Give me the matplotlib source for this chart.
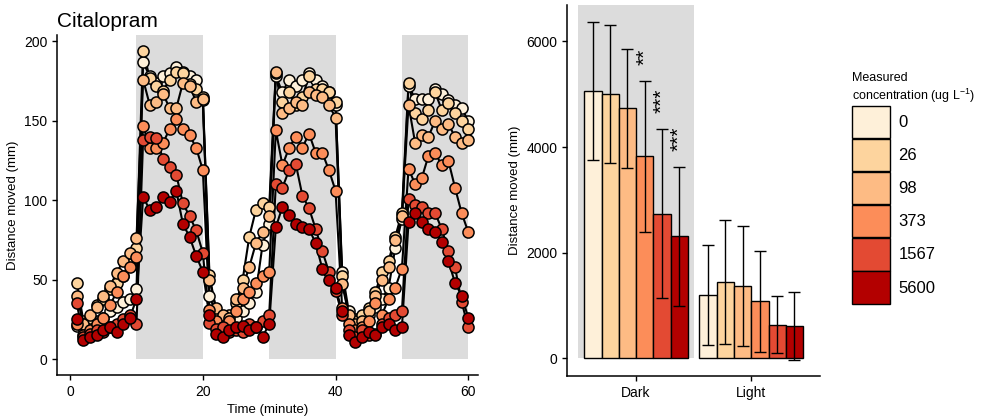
import numpy as np
import matplotlib.pyplot as plt
from matplotlib.patches import Patch

plt.rcParams['font.family'] = ['Liberation Sans', 'DejaVu Sans']

# concentrations and colours (OrRd)
conc = ['0', '26', '98', '373', '1567', '5600']
colors = ['#FEF0D9', '#FDD49E', '#FDBB84', '#FC8D59', '#E34A33', '#B30000']

minutes = list(range(1, 61))
dark_periods = [(10, 20), (30, 40), (50, 60)]

# distance moved per minute, one list per concentration
dist_0 = [21, 20, 22, 24, 26, 30, 33, 36, 38, 44,
          187, 178, 174, 178, 180, 184, 181, 178, 176, 163,
          40, 28, 25, 22, 26, 30, 35, 42, 72, 85,
          178, 168, 176, 172, 176, 180, 176, 172, 168, 160,
          55, 30, 25, 26, 28, 33, 38, 45, 70, 88,
          172, 164, 164, 164, 170, 167, 163, 160, 158, 150]
dist_26 = [48, 24, 26, 34, 38, 44, 48, 52, 60, 70,
           194, 177, 172, 169, 176, 181, 180, 173, 170, 165,
           53, 30, 25, 28, 35, 50, 77, 94, 98, 96,
           180, 162, 168, 160, 165, 178, 170, 170, 168, 162,
           52, 26, 24, 28, 32, 42, 55, 62, 77, 92,
           174, 155, 151, 157, 168, 157, 161, 155, 150, 145]
dist_98 = [40, 22, 28, 33, 40, 46, 54, 62, 67, 76,
           176, 160, 162, 167, 158, 158, 174, 172, 162, 164,
           50, 32, 28, 26, 38, 45, 58, 73, 80, 90,
           181, 155, 158, 162, 160, 168, 166, 165, 160, 152,
           47, 28, 22, 24, 30, 40, 50, 58, 75, 90,
           160, 136, 141, 140, 150, 145, 148, 140, 136, 138]
dist_373 = [22, 15, 18, 22, 26, 34, 42, 52, 58, 64,
            147, 133, 133, 136, 145, 151, 145, 141, 133, 119,
            31, 24, 20, 24, 30, 38, 42, 48, 52, 55,
            144, 122, 133, 140, 133, 142, 130, 130, 119, 106,
            32, 22, 18, 20, 24, 35, 28, 38, 45, 57,
            120, 110, 114, 128, 130, 122, 125, 108, 92, 80]
dist_1567 = [35, 14, 16, 18, 17, 20, 22, 25, 28, 22,
             138, 140, 139, 126, 121, 116, 98, 90, 81, 67,
             23, 19, 20, 17, 18, 17, 22, 20, 24, 28,
             110, 108, 119, 123, 103, 95, 82, 68, 55, 43,
             28, 18, 14, 18, 15, 16, 22, 26, 28, 30,
             101, 97, 96, 92, 92, 82, 68, 58, 36, 20]
dist_5600 = [25, 12, 14, 15, 18, 20, 17, 22, 26, 38,
             102, 94, 96, 102, 99, 106, 85, 77, 65, 55,
             28, 16, 14, 18, 20, 21, 18, 20, 14, 22,
             83, 96, 91, 85, 83, 82, 73, 57, 50, 45,
             30, 15, 11, 14, 17, 15, 20, 22, 18, 20,
             86, 92, 86, 82, 80, 74, 62, 48, 40, 26]
series = [dist_0, dist_26, dist_98, dist_373, dist_1567, dist_5600]

# summed distance per phase (mean and sd)
phases = ['Dark', 'Light']
dark_mean = [5065, 5003, 4732, 3828, 2742, 2312]
dark_sd = [1300, 1300, 1120, 1430, 1600, 1310]
light_mean = [1206, 1446, 1370, 1080, 638, 612]
light_sd = [950, 1170, 1130, 960, 540, 640]
dark_sig = ['', '', '', '**', '***', '***']

fig = plt.figure(figsize=(9.86, 4.18), dpi=100)

# ---- left: time course ----
ax1 = fig.add_axes([0.058, 0.103, 0.427, 0.813])
for start, end in dark_periods:
    ax1.axvspan(start, end, ymin=10 / 214, ymax=1, color='#DCDCDC', lw=0, zorder=0)
for vals in series:
    ax1.plot(minutes, vals, color='black', lw=1.5, zorder=2)
for vals, c in zip(series, colors):
    ax1.plot(minutes, vals, ls='none', marker='o', ms=8, mfc=c, mec='black', mew=1.1, zorder=3)
ax1.set_xlim(-1.95, 61.5)
ax1.set_ylim(-10, 204)
ax1.set_xticks([0, 20, 40, 60])
ax1.set_yticks([0, 50, 100, 150, 200])
ax1.set_xlabel('Time (minute)', fontsize=9.5)
ax1.set_ylabel('Distance moved (mm)', fontsize=9.5)
ax1.set_title('Citalopram', loc='left', fontsize=15, x=0.0, pad=6)

# ---- right: bar chart ----
ax2 = fig.add_axes([0.575, 0.1, 0.257, 0.888])
ax2.axvspan(0.5, 1.5, ymin=335 / 7025, ymax=1, color='#DCDCDC', lw=0, zorder=0)
n = len(conc)
w = 0.9 / n
for gi, (means, sds) in enumerate([(dark_mean, dark_sd), (light_mean, light_sd)]):
    xs = gi + 1 - 0.45 + w / 2 + w * np.arange(n)
    ax2.bar(xs, means, width=w, color=colors, edgecolor='black', lw=1, zorder=2)
    ax2.errorbar(xs, means, yerr=sds, fmt='none', ecolor='black', elinewidth=1,
                 capsize=4, capthick=1, zorder=3)
    if gi == 0:
        for x, m, s, lab in zip(xs, means, sds, dark_sig):
            if lab:
                ax2.text(x, m + s + 300, lab, rotation=90, ha='center', va='bottom', fontsize=15)
ax2.set_xlim(0.4, 2.6)
ax2.set_ylim(-335, 6690)
ax2.set_xticks([1, 2])
ax2.set_xticklabels(phases)
ax2.set_yticks([0, 2000, 4000, 6000])
ax2.set_ylabel('Distance moved (mm)', fontsize=9.5)

for ax in (ax1, ax2):
    for side in ('top', 'right'):
        ax.spines[side].set_visible(False)
    for side in ('left', 'bottom'):
        ax.spines[side].set_linewidth(1.1)
    ax.tick_params(labelsize=10, length=3.5, width=1, colors='black')

handles = [Patch(facecolor=c, edgecolor='black', lw=1) for c in colors]
leg = fig.legend(handles, conc, loc='upper left', bbox_to_anchor=(0.852, 0.855),
                 title='Measured\nconcentration (ug L$^{\\mathregular{-1}}$)', title_fontsize=9,
                 fontsize=12, frameon=False, handlelength=2.3, handleheight=2.6,
                 labelspacing=0.05, handletextpad=0.5, alignment='left', borderpad=0.2)

fig.savefig('out.png', dpi=100)
